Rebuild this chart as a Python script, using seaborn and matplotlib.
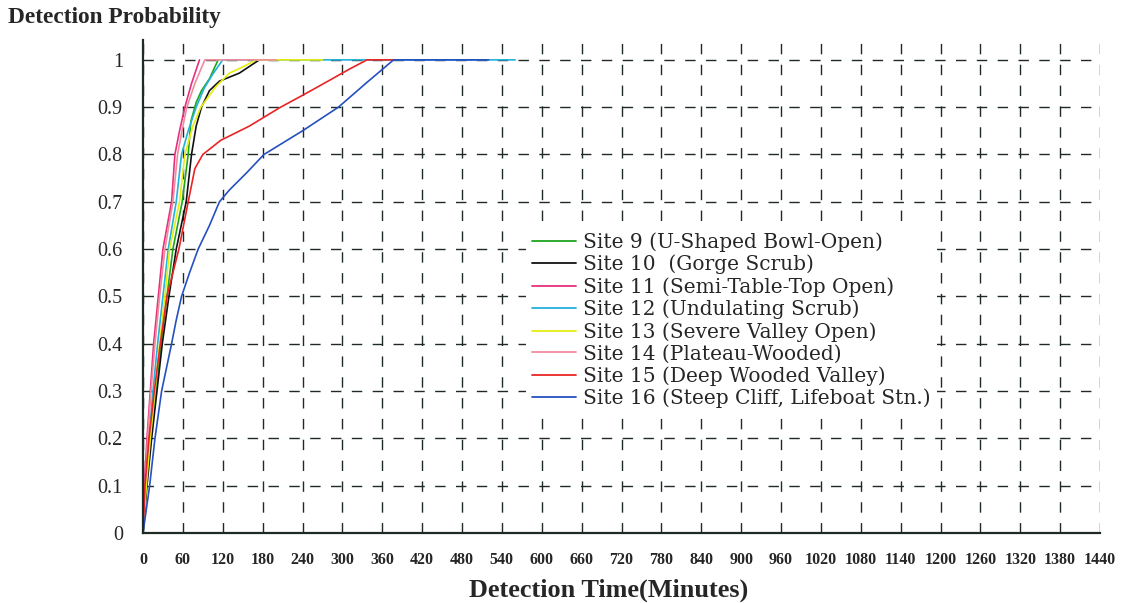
import numpy as np
import pandas as pd
import matplotlib
matplotlib.use("Agg")
import matplotlib.pyplot as plt
import seaborn as sns

# Cumulative detection probability by detection time (minutes) for each site
site_names = [
    "Site 9 (U-Shaped Bowl-Open)",
    "Site 10  (Gorge Scrub)",
    "Site 11 (Semi-Table-Top Open)",
    "Site 12 (Undulating Scrub)",
    "Site 13 (Severe Valley Open)",
    "Site 14 (Plateau-Wooded)",
    "Site 15 (Deep Wooded Valley)",
    "Site 16 (Steep Cliff, Lifeboat Stn.)",
]

site9_time = [0, 5, 12, 19, 27, 36, 45, 59, 68, 72, 80, 88, 100, 113]
site9_prob = [0, 0.1, 0.2, 0.3, 0.4, 0.5, 0.6, 0.7, 0.8, 0.87, 0.91, 0.935, 0.96, 1.0]

site10_time = [0, 6, 13, 21, 29, 39, 50, 65, 73, 80, 88, 100, 115, 145, 175]
site10_prob = [0, 0.1, 0.2, 0.3, 0.4, 0.5, 0.6, 0.7, 0.8, 0.86, 0.9, 0.935, 0.955, 0.972, 1.0]

site11_time = [0, 2, 6, 11, 16, 23, 30, 43, 48, 55, 63, 73, 85]
site11_prob = [0, 0.1, 0.2, 0.3, 0.4, 0.5, 0.6, 0.7, 0.8, 0.85, 0.9, 0.95, 1.0]

site12_time = [0, 4, 9, 15, 22, 30, 38, 50, 58, 68, 80, 92, 105, 120, 560]
site12_prob = [0, 0.1, 0.2, 0.3, 0.4, 0.5, 0.6, 0.7, 0.8, 0.85, 0.9, 0.94, 0.97, 1.0, 1.0]

site13_time = [0, 5, 11, 18, 25, 33, 40, 55, 63, 75, 87, 110, 130, 150, 170, 270]
site13_prob = [0, 0.1, 0.2, 0.3, 0.4, 0.5, 0.6, 0.7, 0.8, 0.86, 0.9, 0.944, 0.972, 0.985, 1.0, 1.0]

site14_time = [0, 3, 7, 12, 18, 25, 33, 45, 52, 60, 66, 78, 93, 200]
site14_prob = [0, 0.1, 0.2, 0.3, 0.4, 0.5, 0.6, 0.7, 0.8, 0.86, 0.9, 0.95, 1.0, 1.0]

site15_time = [0, 3, 9, 17, 26, 36, 54, 68, 78, 90, 117, 160, 207, 240, 272, 310, 337, 380]
site15_prob = [0, 0.1, 0.2, 0.3, 0.4, 0.5, 0.6, 0.7, 0.77, 0.8, 0.83, 0.86, 0.9, 0.925, 0.95, 0.98, 1.0, 1.0]

site16_time = [0, 10, 18, 28, 43, 50, 58, 70, 83, 100, 115, 130, 155, 182, 240, 294, 335, 377, 520]
site16_prob = [0, 0.1, 0.2, 0.3, 0.4, 0.45, 0.5, 0.55, 0.6, 0.65, 0.7, 0.725, 0.76, 0.8, 0.85, 0.9, 0.95, 1.0, 1.0]

site_colors = ["#1ea51e", "#111111", "#e5307e", "#22b2dc",
               "#e6ee10", "#f08c9c", "#ea2424", "#2450c0"]

x_ticks = list(range(0, 1441, 60))
x_tick_labels = [str(v) for v in x_ticks]
y_ticks = [0, 0.1, 0.2, 0.3, 0.4, 0.5, 0.6, 0.7, 0.8, 0.9, 1.0]
y_tick_labels = ["0", "0.1", "0.2", "0.3", "0.4", "0.5", "0.6", "0.7", "0.8", "0.9", "1"]

times = [site9_time, site10_time, site11_time, site12_time,
         site13_time, site14_time, site15_time, site16_time]
probs = [site9_prob, site10_prob, site11_prob, site12_prob,
         site13_prob, site14_prob, site15_prob, site16_prob]

frames = []
for name, t, p in zip(site_names, times, probs):
    frames.append(pd.DataFrame({"time": t, "prob": p, "site": name}))
df = pd.concat(frames, ignore_index=True)

sns.set_theme(style="white")
plt.rcParams["font.family"] = ["Liberation Serif", "DejaVu Serif"]

fig = plt.figure(figsize=(11.21, 6.03), dpi=100)
ax = fig.add_axes([143 / 1121, 1 - 533 / 603, (1100 - 143) / 1121, (533 - 40) / 603])

ink = "#1f2a24"
ax.set_axisbelow(True)
ax.grid(True, color=ink, linewidth=1.0, linestyle=(0, (7.5, 7.5)))

sns.lineplot(data=df, x="time", y="prob", hue="site", hue_order=site_names,
             palette=dict(zip(site_names, site_colors)), estimator=None,
             sort=False, linewidth=1.2, ax=ax)

ax.set_xlim(0, 1440)
ax.set_ylim(0, 1.042)
ax.set_xticks(x_ticks)
ax.set_xticklabels(x_tick_labels, fontsize=11.5, fontweight="bold")
ax.set_yticks(y_ticks)
ax.set_yticklabels(y_tick_labels, fontsize=14.5)
ax.tick_params(axis="x", direction="inout", length=9, width=1.3, color=ink, pad=9)
ax.tick_params(axis="y", direction="inout", length=11, width=1.3, color=ink, pad=9)
for side in ("top", "right"):
    ax.spines[side].set_visible(False)
for side in ("left", "bottom"):
    ax.spines[side].set_color(ink)
    ax.spines[side].set_linewidth(1.6)
ax.set_xlabel("")
ax.set_ylabel("")

handles, labels = ax.get_legend_handles_labels()
leg = ax.legend(handles, labels, loc="upper left",
                bbox_to_anchor=(526 / 1121, 1 - 226 / 603),
                bbox_transform=fig.transFigure, frameon=True,
                facecolor="white", edgecolor="none", framealpha=1.0,
                fancybox=False, prop={"family": "DejaVu Serif", "size": 14.5},
                handlelength=2.2, handletextpad=0.35,
                labelspacing=0.14, borderpad=0.3, borderaxespad=0)
for line in leg.get_lines():
    line.set_linewidth(1.3)

fig.text(8 / 1121, 1 - 18 / 603, "Detection Probability", fontsize=16.8,
         fontweight="bold", ha="left", va="center")
fig.text(609 / 1121, 1 - 590 / 603, "Detection Time(Minutes)", fontsize=18.9,
         fontweight="bold", ha="center", va="center")

fig.savefig("out.png", dpi=100, facecolor="white")
